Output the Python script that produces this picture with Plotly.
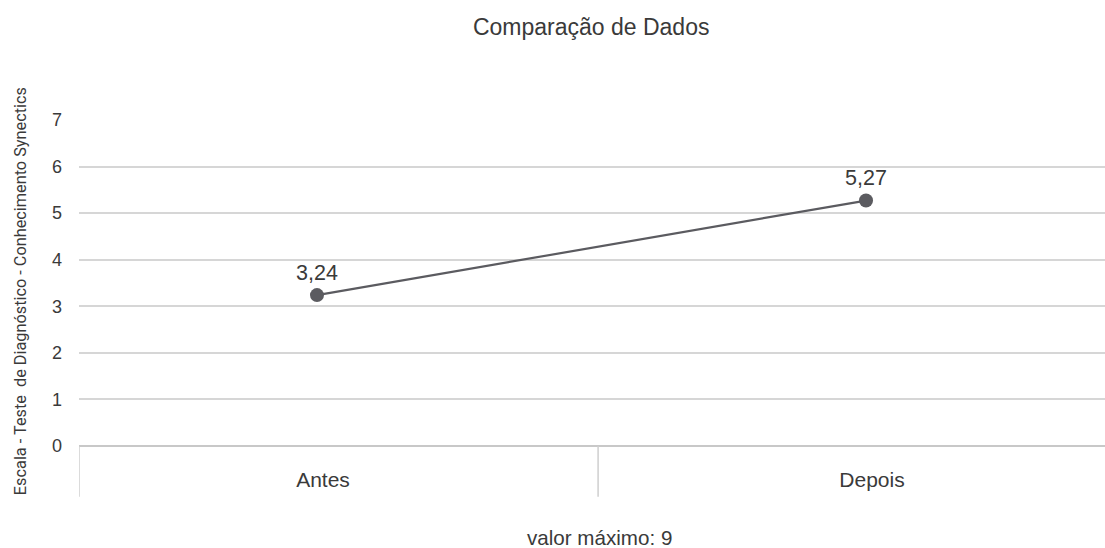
import plotly.graph_objects as go

categories = ["Antes", "Depois"]
values = [3.24, 5.27]
y_ticks = [0, 1, 2, 3, 4, 5, 6, 7]

xpos = list(range(len(categories)))
label_text = [f"{v:.2f}".replace(".", ",") for v in values]

FONT = "Liberation Sans, Arial, Helvetica, sans-serif"

fig = go.Figure()
fig.add_trace(go.Scatter(
    x=xpos, y=values, mode="lines+markers+text",
    text=label_text, textposition="top center",
    textfont=dict(size=21.5, color="#3a3a3a", family=FONT),
    line=dict(color="#5b5b60", width=2.2),
    marker=dict(size=14, color="#5b5b60"),
    showlegend=False, cliponaxis=False,
))

x_left = -0.4335
x_right = 1.4353
x_div = 0.512

fig.update_layout(
    width=1105, height=548,
    margin=dict(l=79, r=0, t=120, b=102, autoexpand=False),
    paper_bgcolor="white", plot_bgcolor="white",
    font=dict(family=FONT, color="#444"),
    title=dict(text="Comparação de Dados", x=0.535, xanchor="center", y=0.95, yanchor="middle",
               font=dict(size=23, color="#3a3a3a")),
    xaxis=dict(range=[x_left, x_right], tickvals=xpos, ticktext=categories,
               showgrid=False, zeroline=False, showline=False, ticks="", automargin=False,
               ticklabelstandoff=19, ticklabelshift=6, tickfont=dict(size=21, color="#3a3a3a")),
    yaxis=dict(range=[0, 7], tickvals=y_ticks, showgrid=True, gridcolor="#d6d6d6", gridwidth=1.5,
               zeroline=True, zerolinecolor="#c8c8c8", zerolinewidth=1.5, automargin=False,
               showline=False, ticks="", ticklabelstandoff=16,
               tickfont=dict(size=18, color="#3a3a3a")),
    annotations=[
        dict(text="Escala - Teste  de Diagnóstico - Conhecimento Synectics", textangle=-90,
             xref="paper", yref="paper", x=-0.0575, y=0.475, xanchor="center", yanchor="middle",
             showarrow=False,
             font=dict(size=16.3, color="#3a3a3a", family="Roboto, Liberation Sans, sans-serif")),
        dict(text="valor máximo: 9", xref="paper", yref="paper", x=0.5076, y=-0.28,
             xanchor="center", yanchor="middle", showarrow=False,
             font=dict(size=20.6, color="#3a3a3a")),
    ],
)

for xd in [x_left, x_div]:
    fig.add_shape(type="line", xref="x", yref="paper", x0=xd, x1=xd, y0=0, y1=-0.156,
                  line=dict(color="#cfcfcf", width=1.5))

fig.write_html("out.html")
